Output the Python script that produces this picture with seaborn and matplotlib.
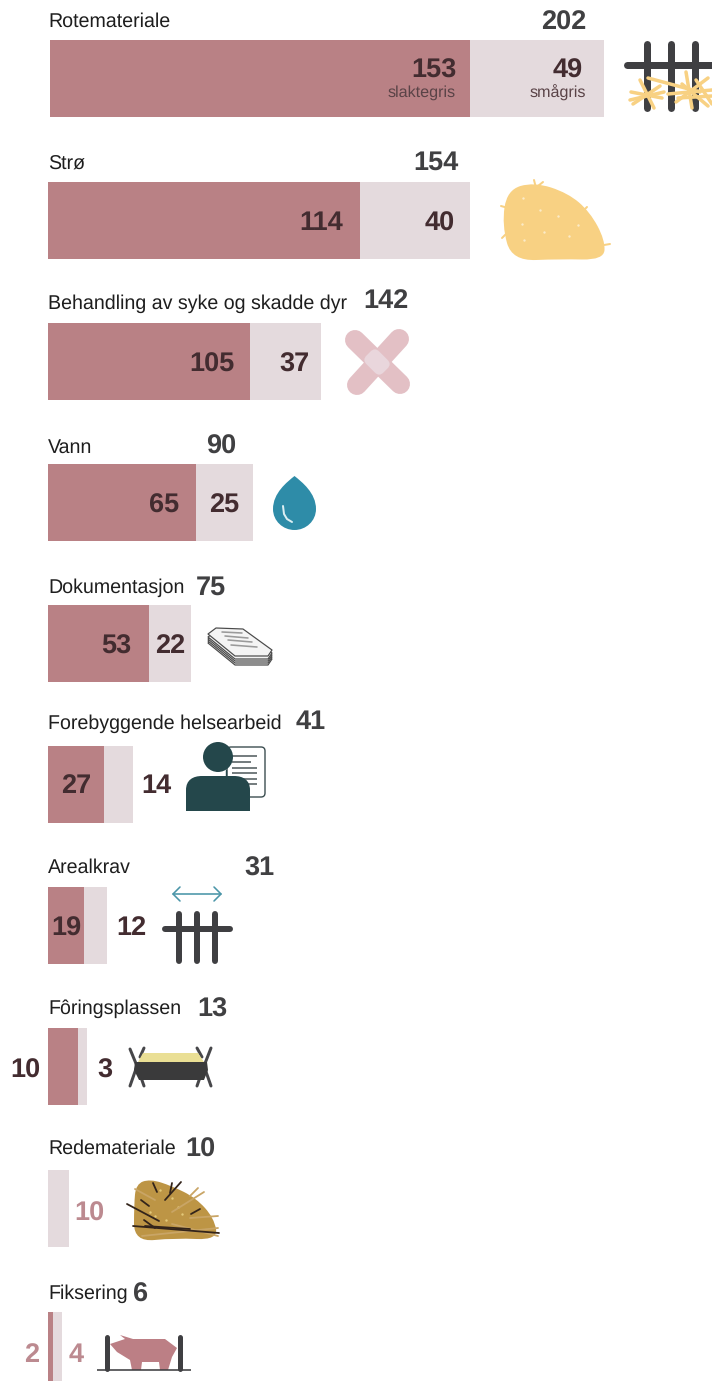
# bar rows for the pig welfare breach chart, with hand drawn icons on top

import matplotlib
matplotlib.use('Agg')
import matplotlib.pyplot as plt
from matplotlib.patches import Circle, FancyBboxPatch, PathPatch, Polygon
from matplotlib.path import Path
from matplotlib.transforms import Affine2D
import seaborn as sns

categories = ['Rotemateriale', 'Strø', 'Behandling av syke og skadde dyr', 'Vann', 'Dokumentasjon',
              'Forebyggende helsearbeid', 'Arealkrav', 'Fôringsplassen', 'Redemateriale', 'Fiksering']
slaktegris = [153, 114, 105, 65, 53, 27, 19, 10, 0, 2]
smagris = [49, 40, 37, 25, 22, 14, 12, 3, 10, 4]
totals = [202, 154, 142, 90, 75, 41, 31, 13, 10, 6]

W, H = 712, 1381
DARK = '#B98185'
LIGHT = '#E4DADD'
NUM = '#432C30'
TOTAL = '#404042'
PINK = '#BC8A90'
GREY = '#3F3F42'
STRAW = '#F8D183'
FONT = 'Liberation Sans'

# pixel layout of each row (the reference does not share one scale between rows)
bar_left = [50, 48, 48, 48, 48, 48, 48, 48, 48, 48]
bar_top = [40, 182, 323, 464, 605, 746, 887, 1028, 1170, 1312]
bar_width = [554, 422, 273, 205, 143, 85, 59, 39, 21, 14]
bar_height = 77
label_y = [22, 164, 304, 448, 588, 724, 868, 1009, 1149, 1294]
total_xy = [(564, 20), (436, 160), (386, 299), (221, 444), (211, 585),
            (311, 720), (259, 866), (212, 1007), (200, 1147), (141, 1292)]
slakt_xy = [(434, 68), (321, 221), (212, 362), (164, 503), (116, 644),
            (76, 784), (66, 926), (25, 1068), None, (32, 1353)]
smaa_xy = [(568, 68), (440, 221), (294, 362), (224, 503), (170, 644),
           (156, 784), (131, 926), (105, 1068), (89, 1211), (76, 1353)]

sns.set_theme(style='white')
plt.rcParams['font.family'] = [FONT, 'DejaVu Sans']
plt.rcParams['text.hinting'] = 'none'

fig = plt.figure(figsize=(W / 100, H / 100), dpi=100, facecolor='white')

for i, cat in enumerate(categories):
    ax = fig.add_axes([bar_left[i] / W, 1 - (bar_top[i] + bar_height) / H,
                       bar_width[i] / W, bar_height / H])
    sns.barplot(x=[totals[i]], y=[cat], orient='h', width=1, color=LIGHT, saturation=1, linewidth=0, ax=ax)
    sns.barplot(x=[slaktegris[i]], y=[cat], orient='h', width=1, color=DARK, saturation=1, linewidth=0, ax=ax)
    ax.set_xlim(0, totals[i])
    ax.set_ylim(-0.5, 0.5)
    ax.axis('off')

# overlay in picture pixels for text and icons
ov = fig.add_axes([0, 0, 1, 1], zorder=5)
ov.set_xlim(0, W)
ov.set_ylim(H, 0)
ov.axis('off')
ov.patch.set_alpha(0)


def px(n):
    return n * 0.72


def line(pts, color=GREY, w=6, cap='round', z=2):
    xs, ys = zip(*pts)
    ov.plot(xs, ys, color=color, lw=px(w), solid_capstyle=cap, solid_joinstyle='round', zorder=z)


def blob(pts, color, **kw):
    '''smooth closed shape through the given outline points'''
    mids = [((pts[k][0] + pts[(k + 1) % len(pts)][0]) / 2, (pts[k][1] + pts[(k + 1) % len(pts)][1]) / 2)
            for k in range(len(pts))]
    verts = [mids[-1]]
    codes = [Path.MOVETO]
    for k in range(len(pts)):
        verts += [pts[k], mids[k]]
        codes += [Path.CURVE3, Path.CURVE3]
    ov.add_patch(PathPatch(Path(verts, codes), fc=color, ec='none', **kw))


def number(x, y, s, color=NUM, size=19.5, ha='center'):
    ov.text(x, y + 2.5, s, color=color, fontsize=size, fontweight='bold', ha=ha, va='center')


for i, cat in enumerate(categories):
    ov.text(48, label_y[i], cat, fontsize=14.1, color='#1E1E1E', ha='left', va='center')
    number(*total_xy[i], str(totals[i]), color=TOTAL)
    pale = cat == 'Fiksering' or cat == 'Redemateriale'
    if slakt_xy[i] is not None:
        number(*slakt_xy[i], str(slaktegris[i]), color=PINK if cat == 'Fiksering' else NUM)
    number(*smaa_xy[i], str(smagris[i]), color=PINK if pale else NUM)

ov.text(456, 93, 'slaktegris', fontsize=11.6, color='#5A4347', ha='right', va='center')
ov.text(586, 93, 'smågris', fontsize=11.6, color='#5A4347', ha='right', va='center')

# Rotemateriale: fence with straw
for x in [647, 671, 695]:
    line([(x, 44), (x, 108)], w=7)
line([(627, 65), (712, 65)], w=7)
for a, b in [((631, 92), (662, 98)), ((633, 104), (660, 86)), ((640, 80), (654, 108)), ((630, 100), (664, 92)),
             ((648, 78), (700, 92)), ((676, 102), (708, 78)), ((686, 72), (692, 108)), ((678, 98), (712, 96)),
             ((696, 80), (712, 104)), ((668, 94), (712, 90)), ((682, 84), (708, 106))]:
    line([a, b], color=STRAW, w=3.5)

# Strø: hay heap
blob([(534, 182), (568, 193), (590, 212), (605, 240), (604, 260), (560, 259), (512, 261), (502, 225),
      (507, 190)], STRAW)
for a, b in [((534, 180), (536, 188)), ((538, 186), (543, 182)), ((501, 206), (508, 208)), ((502, 238), (508, 232)),
             ((598, 246), (610, 244)), ((584, 210), (587, 207))]:
    line([a, b], color=STRAW, w=2)
ov.scatter([540, 523, 558, 522, 544, 578, 569, 524], [210, 198, 216, 224, 232, 225, 236, 240],
           s=3, color='#FBEBC8', linewidths=0)

# Behandling: plaster
for a, b in [((355, 340), (400, 384)), ((357, 385), (399, 339))]:
    line([a, b], color='#E3C0C5', w=20)
pad = FancyBboxPatch((365, 353), 24, 18, boxstyle='round,pad=0,rounding_size=6',
                     fc='#E9D6DC', ec='none', zorder=3,
                     transform=Affine2D().rotate_deg_around(377, 362, 45) + ov.transData)
ov.add_patch(pad)

# Vann: water drop
drop = Path([(294.5, 476), (287, 482), (273, 493), (273, 509), (273, 521), (283, 530), (294.5, 530),
             (306, 530), (316, 521), (316, 509), (316, 493), (302, 482), (294.5, 476)],
            [Path.MOVETO] + [Path.CURVE4] * 12)
ov.add_patch(PathPatch(drop, fc='#2E8CA8', ec='none'))
ov.plot([283, 284, 287, 292], [506, 514, 519, 522], color='#DCEFF3', lw=px(2), solid_capstyle='round')

# Dokumentasjon: stack of paper
sheet = [(208, 634), (216, 628), (243, 629), (272, 650), (268, 656), (235, 656)]
for dy in [9, 7, 5, 3, 0]:
    ov.add_patch(Polygon([(x, y + dy) for x, y in sheet], fc='#F4F4F4', ec='#4A4A4A', lw=px(1.2),
                         joinstyle='round'))
for a, b in [((222, 632), (242, 633)), ((225, 636), (248, 638)), ((228, 640), (252, 642)),
             ((231, 645), (257, 647))]:
    line([a, b], color='#9A9A9A', w=1.6)

# Forebyggende helsearbeid: person with sheet
ov.add_patch(FancyBboxPatch((227, 747), 38, 50, boxstyle='round,pad=0,rounding_size=4', fc='white',
                            ec='#3D4F52', lw=px(1.4)))
for y, x1 in zip([756, 762, 768, 773, 779, 784], [257, 251, 257, 257, 257, 257]):
    line([(232, y), (x1, y)], color='#555F61', w=1.6, cap='butt')
PERSON = '#24474B'
body = Path([(186, 811), (186, 790), (186, 780), (193, 776), (202, 776), (234, 776), (243, 776), (250, 780),
             (250, 790), (250, 811), (186, 811)],
            [Path.MOVETO, Path.LINETO, Path.CURVE4, Path.CURVE4, Path.CURVE4, Path.LINETO,
             Path.CURVE4, Path.CURVE4, Path.CURVE4, Path.LINETO, Path.CLOSEPOLY])
ov.add_patch(PathPatch(body, fc=PERSON, ec='none', zorder=4))
ov.add_patch(Circle((218, 757), 15, fc=PERSON, ec='none', zorder=4))
line([(226, 770), (226, 777)], color=PERSON, w=1.4)

# Arealkrav: fence with width arrow
for x in [179, 197, 215]:
    line([(x, 914), (x, 961)], w=6)
line([(165, 929), (230, 929)], w=6)
TEAL = '#4A95A8'
line([(173, 894), (221, 894)], color=TEAL, w=1.6)
line([(180, 887), (173, 894), (180, 901)], color=TEAL, w=1.6)
line([(214, 887), (221, 894), (214, 901)], color=TEAL, w=1.6)

# Fôringsplassen: feed trough
for pts in [[(130, 1049), (137, 1066), (130, 1086)], [(144, 1048), (140, 1057)], [(137, 1066), (144, 1086)],
            [(211, 1048), (204, 1066), (211, 1086)], [(197, 1048), (202, 1057)], [(204, 1066), (197, 1086)]]:
    line(pts, color='#47474A', w=3)
ov.add_patch(Polygon([(138, 1062), (143, 1053), (198, 1053), (204, 1062)], fc='#EADF95', ec='none', zorder=3))
ov.add_patch(Polygon([(135, 1062), (207, 1062), (208, 1070), (204, 1080), (139, 1080), (134, 1070)],
                     fc='#3A3A3B', ec='none', zorder=3))

# Redemateriale: nest
blob([(150, 1179), (172, 1186), (196, 1198), (214, 1218), (218, 1240), (175, 1238), (134, 1242),
      (134, 1205), (136, 1184)], '#BD9545')
for a, b in [((135, 1189), (155, 1200)), ((172, 1212), (204, 1192)), ((190, 1218), (218, 1216)),
             ((142, 1236), (218, 1228)), ((172, 1224), (218, 1236)), ((190, 1196), (198, 1188))]:
    line([a, b], color='#C9A566', w=1.8)
for a, b in [((127, 1204), (159, 1221)), ((133, 1226), (219, 1233)), ((145, 1226), (190, 1229)),
             ((165, 1200), (181, 1182)), ((172, 1183), (170, 1193)), ((153, 1183), (157, 1192)),
             ((141, 1200), (149, 1206)), ((191, 1214), (200, 1209)), ((144, 1220), (155, 1228))]:
    line([a, b], color='#33241A', w=1.8)
ov.scatter([160, 172, 150, 178, 155, 182, 166], [1190, 1198, 1212, 1207, 1216, 1214, 1220],
           s=3, color='#E3C97A', linewidths=0)

# Fiksering: pig between two posts
pig = [(110, 1344), (125, 1339), (120, 1335), (133, 1339), (165, 1339), (177, 1348), (172, 1357),
       (168, 1370), (160, 1370), (159, 1362), (142, 1362), (141, 1370), (132, 1370), (130, 1360), (117, 1352)]
ov.add_patch(Polygon(pig, fc='#BC7F85', ec='none', joinstyle='round'))
for x in [107, 180]:
    line([(x, 1337), (x, 1369)], w=5)
line([(97, 1370), (191, 1370)], w=1.6, cap='butt')

fig.savefig('out.png', dpi=100)
